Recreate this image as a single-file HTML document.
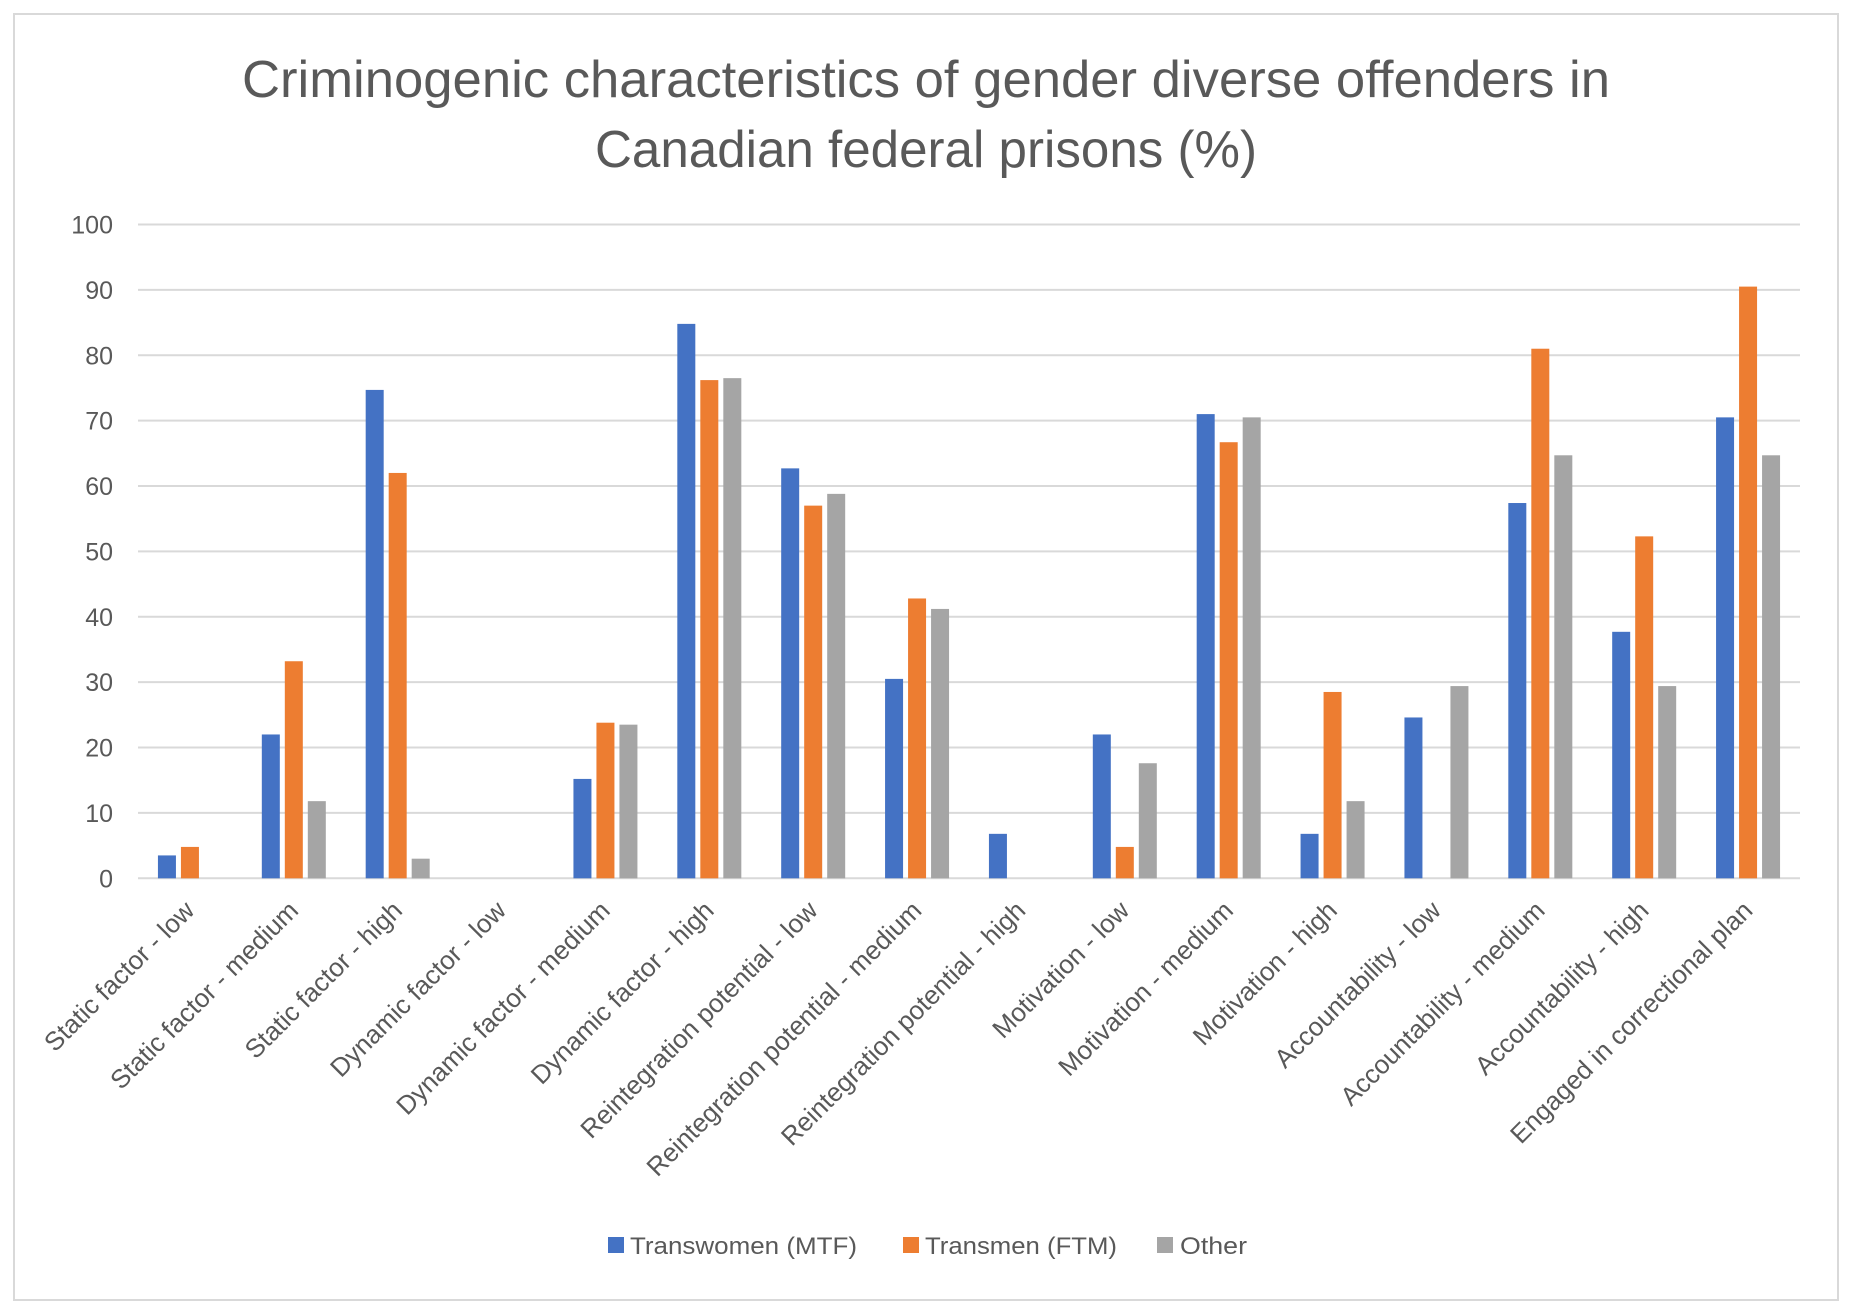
<!DOCTYPE html>
<html><head><meta charset="utf-8"><style>
html,body{margin:0;padding:0;background:#fff;}
svg text{font-family:"Liberation Sans",sans-serif;fill:#595959;}
</style></head><body>
<svg id="chart" width="1852" height="1308" xmlns="http://www.w3.org/2000/svg">
<rect x="14" y="14" width="1824" height="1286" fill="#fff" stroke="#d9d9d9" stroke-width="2"/>
<text x="926" y="97" text-anchor="middle" font-size="52" textLength="1368" lengthAdjust="spacingAndGlyphs">Criminogenic characteristics of gender diverse offenders in</text>
<text x="926" y="167" text-anchor="middle" font-size="52" textLength="662" lengthAdjust="spacingAndGlyphs">Canadian federal prisons (%)</text>
<g id="grid"></g><g id="bars"></g><g id="labels"></g>
<g>
<rect x="608" y="1237" width="16" height="16" fill="#4472c4"/>
<text x="630" y="1254" font-size="24" textLength="227" lengthAdjust="spacingAndGlyphs">Transwomen (MTF)</text>
<rect x="903" y="1237" width="16" height="16" fill="#ed7d31"/>
<text x="925" y="1254" font-size="24" textLength="192" lengthAdjust="spacingAndGlyphs">Transmen (FTM)</text>
<rect x="1157" y="1237" width="16" height="16" fill="#a5a5a5"/>
<text x="1180" y="1254" font-size="24" textLength="67" lengthAdjust="spacingAndGlyphs">Other</text>
</g>
</svg>
<script>
const categories=["Static factor - low","Static factor - medium","Static factor - high","Dynamic factor - low","Dynamic factor - medium","Dynamic factor - high","Reintegration potential - low","Reintegration potential - medium","Reintegration potential - high","Motivation - low","Motivation - medium","Motivation - high","Accountability - low","Accountability - medium","Accountability - high","Engaged in correctional plan"];
const transwomen=[3.5,22,74.7,0,15.2,84.8,62.7,30.5,6.8,22,71,6.8,24.6,57.4,37.7,70.5];
const transmen=[4.8,33.2,62,0,23.8,76.2,57,42.8,0,4.8,66.7,28.5,0,81,52.3,90.5];
const other=[0,11.8,3,0,23.5,76.5,58.8,41.2,0,17.6,70.5,11.8,29.4,64.7,29.4,64.7];
const yTicks=[0,10,20,30,40,50,60,70,80,90,100];
const NS="http://www.w3.org/2000/svg";
const L=138,R=1800,T=224.5,B=878.3;
const y=v=>B-(v/100)*(B-T);
const step=(R-L)/categories.length;
const xc=i=>L+step*(i+0.5);
function mk(t,a,p){const e=document.createElementNS(NS,t);for(const k in a)e.setAttribute(k,a[k]);p.appendChild(e);return e;}
const grid=document.getElementById('grid');
yTicks.forEach(v=>{
 const ln=mk('line',{x1:L,x2:R,y1:y(v),y2:y(v),stroke:'#d9d9d9','stroke-width':2},grid);
 
 
 const t=mk('text',{x:113,y:y(v)+9,'text-anchor':'end','font-size':25},grid);
 
 
 t.textContent=v;
});
const series=[[transwomen,'#4472c4','mtf'],[transmen,'#ed7d31','ftm'],[other,'#a5a5a5','other']];
const bars=document.getElementById('bars');
const bw=18,bs=23;
categories.forEach((c,i)=>{
 series.forEach((s,j)=>{
  const v=s[0][i];
  const x=xc(i)+(j-1)*bs-bw/2;
  const r=mk('rect',{x:x,y:y(v),width:bw,height:B-y(v),fill:s[1]},bars);
  
  
 });
});
const labels=document.getElementById('labels');
categories.forEach((c,i)=>{
 const x=xc(i)+6,yy=912;
 const t=mk('text',{x:x,y:yy,'text-anchor':'end','font-size':26,transform:`rotate(-45 ${x} ${yy})`},labels);
 
 
 t.textContent=c;
});
</script>
</body></html>
